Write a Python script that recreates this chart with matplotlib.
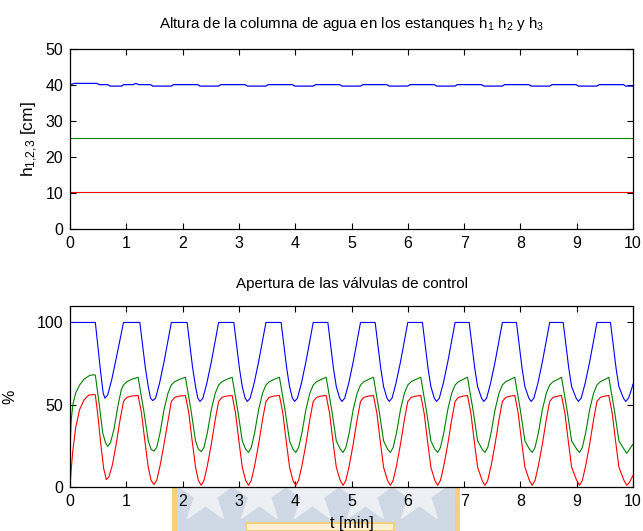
import matplotlib
matplotlib.use("Agg")
import matplotlib.pyplot as plt
from matplotlib.patches import Rectangle
from matplotlib.lines import Line2D

plt.rcParams["font.family"] = ["Liberation Sans", "DejaVu Sans"]
plt.rcParams["mathtext.fontset"] = "custom"
plt.rcParams["mathtext.rm"] = "Liberation Sans"
plt.rcParams["mathtext.it"] = "Liberation Sans"
plt.rcParams["font.size"] = 11.5

# --- tank levels [cm] ---
h_t = [0, 10]
h2_level = [25.3, 25.3]
h3_level = [10.3, 10.3]

h1_t = [0, 0.08, 0.48, 0.52, 0.67, 0.71, 0.92, 0.95, 1.12, 1.17, 1.22, 1.43,
        1.47, 1.80, 1.84, 2.27, 2.31, 2.64, 2.68, 3.11, 3.15, 3.48, 3.52, 3.95,
        3.99, 4.32, 4.36, 4.79, 4.83, 5.16, 5.20, 5.63, 5.67, 6.00, 6.04, 6.47,
        6.51, 6.84, 6.88, 7.31, 7.35, 7.68, 7.72, 8.15, 8.19, 8.52, 8.56, 8.99,
        9.03, 9.36, 9.40, 9.83, 9.87, 10.0]
h1_level = [40.1, 40.45, 40.45, 40.1, 40.1, 39.7, 39.7, 40.1, 40.1, 40.45, 40.1, 40.1,
            39.7, 39.7, 40.1, 40.1, 39.7, 39.7, 40.1, 40.1, 39.7, 39.7, 40.1, 40.1,
            39.7, 39.7, 40.1, 40.1, 39.7, 39.7, 40.1, 40.1, 39.7, 39.7, 40.1, 40.1,
            39.7, 39.7, 40.1, 40.1, 39.7, 39.7, 40.1, 40.1, 39.7, 39.7, 40.1, 40.1,
            39.7, 39.7, 40.1, 40.1, 39.7, 39.7]

# --- valve openings [%] ---
v1_t = [0, 0.45, 0.50, 0.55, 0.59, 0.62, 0.67, 0.74, 0.82, 0.89, 0.95,
        1.24, 1.29, 1.34, 1.39, 1.43, 1.47, 1.52, 1.59, 1.67, 1.74, 1.80,
        2.08, 2.13, 2.18, 2.23, 2.27, 2.31, 2.36, 2.43, 2.51, 2.58, 2.64,
        2.91, 2.96, 3.01, 3.06, 3.11, 3.15, 3.20, 3.27, 3.35, 3.42, 3.48,
        3.75, 3.80, 3.85, 3.90, 3.95, 3.99, 4.04, 4.11, 4.19, 4.26, 4.32,
        4.58, 4.63, 4.68, 4.73, 4.79, 4.83, 4.88, 4.95, 5.03, 5.10, 5.16,
        5.42, 5.47, 5.52, 5.57, 5.63, 5.67, 5.72, 5.79, 5.87, 5.94, 6.00,
        6.26, 6.31, 6.36, 6.41, 6.47, 6.51, 6.56, 6.63, 6.71, 6.78, 6.84,
        7.09, 7.14, 7.19, 7.24, 7.31, 7.35, 7.40, 7.47, 7.55, 7.62, 7.68,
        7.93, 7.98, 8.03, 8.08, 8.15, 8.19, 8.24, 8.31, 8.39, 8.46, 8.52,
        8.76, 8.81, 8.86, 8.91, 8.99, 9.03, 9.08, 9.15, 9.23, 9.30, 9.36,
        9.60, 9.65, 9.70, 9.75, 9.83, 9.87, 9.92, 9.97, 10.0]
v1_open = [100, 100, 84, 68, 57, 54, 56, 65, 78, 90, 100,
           100, 86, 72, 61, 54, 52.5, 54, 63, 76, 89, 100,
           100, 86, 72, 61, 54, 52, 54, 63, 76, 89, 100,
           100, 86, 72, 61, 54, 52, 54, 63, 76, 89, 100,
           100, 86, 72, 61, 54, 52, 54, 63, 76, 89, 100,
           100, 86, 72, 61, 54, 52, 54, 63, 76, 89, 100,
           100, 86, 72, 61, 54, 52, 54, 63, 76, 89, 100,
           100, 86, 72, 61, 54, 52, 54, 63, 76, 89, 100,
           100, 86, 72, 61, 54, 52, 54, 63, 76, 89, 100,
           100, 86, 72, 61, 54, 52, 54, 63, 76, 89, 100,
           100, 86, 72, 61, 54, 52, 54, 63, 76, 89, 100,
           100, 86, 72, 61, 54, 52, 54, 59, 62.5]

v2_t = [0, 0.02, 0.05, 0.10, 0.17, 0.25, 0.35, 0.42, 0.45, 0.52, 0.58, 0.63, 0.67,
        0.72, 0.78, 0.85, 0.91, 0.95, 1.01, 1.10, 1.21,
        1.31, 1.39, 1.44, 1.49, 1.54, 1.60, 1.67, 1.74, 1.80, 1.86, 1.95, 2.05,
        2.15, 2.23, 2.28, 2.33, 2.38, 2.44, 2.51, 2.58, 2.64, 2.70, 2.79, 2.88,
        2.98, 3.06, 3.12, 3.17, 3.22, 3.28, 3.35, 3.42, 3.48, 3.54, 3.63, 3.72,
        3.82, 3.90, 3.96, 4.01, 4.06, 4.12, 4.19, 4.26, 4.32, 4.38, 4.47, 4.55,
        4.65, 4.73, 4.80, 4.85, 4.90, 4.96, 5.03, 5.10, 5.16, 5.22, 5.31, 5.39,
        5.49, 5.57, 5.64, 5.69, 5.74, 5.80, 5.87, 5.94, 6.00, 6.06, 6.15, 6.23,
        6.33, 6.41, 6.48, 6.53, 6.58, 6.64, 6.71, 6.78, 6.84, 6.90, 6.99, 7.06,
        7.16, 7.24, 7.32, 7.37, 7.42, 7.48, 7.55, 7.62, 7.68, 7.74, 7.83, 7.90,
        8.00, 8.08, 8.16, 8.21, 8.26, 8.32, 8.39, 8.46, 8.52, 8.58, 8.67, 8.73,
        8.83, 8.91, 9.00, 9.05, 9.10, 9.16, 9.23, 9.30, 9.36, 9.42, 9.51, 9.57,
        9.67, 9.75, 9.84, 9.89, 9.94, 10.0]
v2_open = [21, 40, 50, 57, 62, 65.5, 67.8, 68.2, 68, 50, 33, 27, 24.7,
           27, 35, 49, 59, 62, 64, 65.5, 66.7,
           46.5, 28, 23, 21.8, 24, 33, 47, 57, 62, 64, 65.5, 66.7,
           46.5, 28, 23, 21.5, 24, 33, 47, 57, 62, 64, 65.5, 66.7,
           46.5, 28, 23, 21, 24, 33, 47, 57, 62, 64, 65.5, 66.7,
           46.5, 28, 23, 21, 24, 33, 47, 57, 62, 64, 65.5, 66.7,
           46.5, 28, 23, 21, 24, 33, 47, 57, 62, 64, 65.5, 66.7,
           46.5, 28, 23, 21, 24, 33, 47, 57, 62, 64, 65.5, 66.7,
           46.5, 28, 23, 21, 24, 33, 47, 57, 62, 64, 65.5, 66.7,
           46.5, 28, 23, 21, 24, 33, 47, 57, 62, 64, 65.5, 66.7,
           46.5, 28, 23, 21, 24, 33, 47, 57, 62, 64, 65.5, 66.7,
           46.5, 28, 23, 21, 24, 33, 47, 57, 62, 64, 65.5, 66.7,
           46.5, 28, 23, 20.5, 23, 26]

v3_t = [0, 0.02, 0.05, 0.10, 0.17, 0.25, 0.33, 0.42, 0.45, 0.50, 0.55, 0.60, 0.645,
        0.69, 0.75, 0.82, 0.89, 0.95, 1.01, 1.10, 1.21,
        1.27, 1.33, 1.39, 1.44, 1.49, 1.54, 1.60, 1.67, 1.74, 1.80, 1.86, 1.95, 2.05,
        2.11, 2.17, 2.23, 2.28, 2.33, 2.38, 2.44, 2.51, 2.58, 2.64, 2.70, 2.79, 2.88,
        2.94, 3.00, 3.06, 3.12, 3.17, 3.22, 3.28, 3.35, 3.42, 3.48, 3.54, 3.63, 3.72,
        3.78, 3.84, 3.90, 3.96, 4.01, 4.06, 4.12, 4.19, 4.26, 4.32, 4.38, 4.47, 4.55,
        4.61, 4.67, 4.73, 4.80, 4.85, 4.90, 4.96, 5.03, 5.10, 5.16, 5.22, 5.31, 5.39,
        5.45, 5.51, 5.57, 5.64, 5.69, 5.74, 5.80, 5.87, 5.94, 6.00, 6.06, 6.15, 6.23,
        6.29, 6.35, 6.41, 6.48, 6.53, 6.58, 6.64, 6.71, 6.78, 6.84, 6.90, 6.99, 7.06,
        7.12, 7.18, 7.24, 7.32, 7.37, 7.42, 7.48, 7.55, 7.62, 7.68, 7.74, 7.83, 7.90,
        7.96, 8.02, 8.08, 8.16, 8.21, 8.26, 8.32, 8.39, 8.46, 8.52, 8.58, 8.67, 8.73,
        8.79, 8.85, 8.91, 9.00, 9.05, 9.10, 9.16, 9.23, 9.30, 9.36, 9.42, 9.51, 9.57,
        9.63, 9.69, 9.75, 9.84, 9.89, 9.94, 10.0]
v3_open = [0, 10, 22, 36, 47, 53, 55.8, 56.2, 56, 42, 25, 11, 4.5,
           6, 13, 26, 41, 52, 54.5, 55.3, 55.6,
           45, 28, 12, 4, 1.5, 4, 13, 26, 40, 52, 54.5, 55.3, 55.6,
           45, 28, 12, 4, 1, 4, 13, 26, 41, 52, 54.5, 55.3, 55.6,
           45, 28, 12, 4, 1, 4, 13, 26, 41, 52, 54.5, 55.3, 55.6,
           45, 28, 12, 4, 1, 4, 13, 26, 41, 52, 54.5, 55.3, 55.6,
           45, 28, 12, 4, 1, 4, 13, 26, 41, 52, 54.5, 55.3, 55.6,
           45, 28, 12, 4, 1, 4, 13, 26, 41, 52, 54.5, 55.3, 55.6,
           45, 28, 12, 4, 1, 4, 13, 26, 41, 52, 54.5, 55.3, 55.6,
           45, 28, 12, 4, 1, 4, 13, 26, 41, 52, 54.5, 55.3, 55.6,
           45, 28, 12, 4, 1, 4, 13, 26, 41, 52, 54.5, 55.3, 55.6,
           45, 28, 12, 4, 1, 4, 13, 26, 41, 52, 54.5, 55.3, 55.6,
           45, 28, 12, 4, 1, 3, 7]

x_ticks = list(range(0, 11))
blue, green, red = (0, 0, 1), (0, 0.5, 0), (1, 0, 0)


def style_axes(ax):
    ax.set_xlim(0, 10)
    ax.set_xticks(x_ticks)
    ax.tick_params(direction="in", top=True, right=True, length=4, width=0.8, pad=5)
    for s in ax.spines.values():
        s.set_linewidth(0.9)


fig = plt.figure(figsize=(6.43, 5.31), dpi=100)

# university seal behind the lower axis labels
W, H = 643.0, 531.0
fig.add_artist(Rectangle((172 / W, 0), 288 / W, 0.12, transform=fig.transFigure,
                         facecolor="#cfd9e5", edgecolor="none", zorder=0))
for x0 in (172, 455):
    fig.add_artist(Rectangle((x0 / W, 0), 5 / W, 0.12, transform=fig.transFigure,
                             facecolor="#f4cf7c", edgecolor="none", zorder=0))
fig.add_artist(Rectangle((246 / W, 0), 148 / W, 8 / H, transform=fig.transFigure,
                         facecolor="#fff0d4", edgecolor="#f4cf7c", lw=1.5, zorder=0))
for xs in (205, 259, 312, 365, 419):
    fig.add_artist(Line2D([xs / W], [38 / H], transform=fig.transFigure, marker="*",
                          markersize=44, color="#eceff3", linestyle="none", zorder=0))

ax1 = fig.add_axes([70 / W, 1 - 229 / H, 563 / W, 180 / H])
ax1.plot(h1_t, h1_level, color=blue, lw=0.9)
ax1.plot(h_t, h2_level, color=green, lw=0.8)
ax1.plot(h_t, h3_level, color=red, lw=0.8)
style_axes(ax1)
ax1.set_ylim(0, 50)
ax1.set_yticks([0, 10, 20, 30, 40, 50])
ax1.set_ylabel(r"h$_{\mathregular{1{,}2{,}3}}$ [cm]", fontsize=12.5, labelpad=4)
ax1.set_title(r"Altura de la columna de agua en los estanques h$_\mathregular{1}$ "
              r"h$_\mathregular{2}$ y h$_\mathregular{3}$", fontsize=10.9, pad=15)

ax2 = fig.add_axes([70 / W, 1 - 487 / H, 563 / W, 181 / H])
ax2.plot(v1_t, v1_open, color=blue, lw=0.8)
ax2.plot(v2_t, v2_open, color=green, lw=0.8)
ax2.plot(v3_t, v3_open, color=red, lw=0.8)
style_axes(ax2)
ax2.set_ylim(0, 110)
ax2.set_yticks([0, 50, 100])
ax2.set_ylabel("%", labelpad=14)
ax2.set_xlabel("t [min]", labelpad=5)
ax2.set_title("Apertura de las válvulas de control", fontsize=10.9, pad=13)

fig.savefig("out.png", dpi=100)
